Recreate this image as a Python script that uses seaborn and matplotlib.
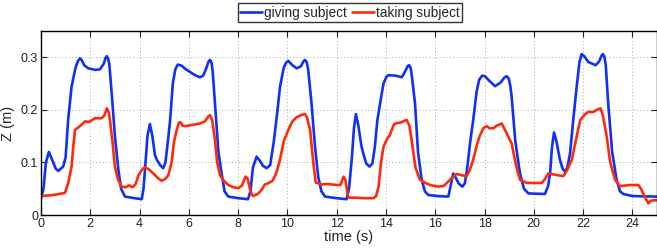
import matplotlib
matplotlib.use("Agg")
import matplotlib.pyplot as plt
import seaborn as sns
import pandas as pd
from matplotlib.ticker import FixedLocator

blue_t = [0.0, 0.1, 0.2, 0.32, 0.45, 0.6, 0.7, 0.9, 1.0, 1.1, 1.24, 1.4, 1.5, 1.58, 1.66, 1.75, 1.92, 2.2, 2.39, 2.55,
          2.62, 2.67, 2.72, 2.77, 2.87, 3.0, 3.14, 3.25, 3.41, 3.8, 4.09, 4.16, 4.22, 4.32, 4.42, 4.52, 4.62, 4.7, 4.85,
          4.96, 5.05, 5.15, 5.24, 5.35, 5.45, 5.55, 5.71, 5.85, 6.05, 6.25, 6.45, 6.58, 6.7, 6.8, 6.86, 6.92, 6.97, 7.06, 7.2,
          7.33, 7.45, 7.6, 8.0, 8.4, 8.5, 8.6, 8.75, 8.9, 9.0, 9.16, 9.3, 9.45, 9.6, 9.7, 9.85, 9.95, 10.04, 10.2,
          10.38, 10.55, 10.65, 10.71, 10.78, 10.84, 10.98, 11.12, 11.25, 11.38, 11.53, 12.0, 12.4, 12.5, 12.61, 12.7, 12.78,
          12.88, 13.0, 13.08, 13.2, 13.33, 13.45, 13.55, 13.65, 13.76, 13.9, 14.02, 14.1, 14.4, 14.64, 14.8, 14.88, 14.94,
          15.0, 15.05, 15.18, 15.3, 15.45, 15.58, 15.72, 16.1, 16.53, 16.6, 16.73, 16.82, 16.95, 17.1, 17.2, 17.3,
          17.42, 17.54, 17.68, 17.78, 17.9, 18.02, 18.2, 18.43, 18.65, 18.82, 18.9, 18.98, 19.05, 19.1, 19.25, 19.44, 19.6, 19.78,
          20.45, 20.58, 20.66, 20.74, 20.82, 20.92, 21.06, 21.17, 21.27, 21.37, 21.47, 21.6, 21.74, 21.85,
          21.94, 22.05, 22.21, 22.51, 22.65, 22.75, 22.8, 22.86, 22.92, 23.02, 23.18, 23.36, 23.5, 23.63, 24.0, 25.0]
blue_z = [0.032, 0.05, 0.10, 0.12, 0.105, 0.088, 0.084, 0.092, 0.11, 0.18, 0.244, 0.28, 0.293, 0.298, 0.294, 0.285, 0.279,
          0.276, 0.277, 0.288, 0.299, 0.302, 0.298, 0.288, 0.231, 0.15, 0.086, 0.05, 0.035, 0.032, 0.030, 0.05, 0.086, 0.15,
          0.173, 0.15, 0.115, 0.105, 0.094, 0.089, 0.10, 0.14, 0.18, 0.25, 0.277, 0.286, 0.284, 0.278, 0.272, 0.266,
          0.262, 0.265, 0.278, 0.292, 0.295, 0.29, 0.272, 0.212, 0.12, 0.079, 0.045, 0.035, 0.032, 0.030, 0.045, 0.09, 0.111,
          0.102, 0.094, 0.089, 0.095, 0.14, 0.2, 0.244, 0.28, 0.29, 0.293, 0.285, 0.279, 0.283, 0.292, 0.295, 0.291, 0.278, 0.212,
          0.13, 0.073, 0.045, 0.035, 0.032, 0.030, 0.05, 0.105, 0.165, 0.192, 0.17, 0.132, 0.117, 0.098, 0.092,
          0.098, 0.13, 0.18, 0.212, 0.25, 0.263, 0.266, 0.265, 0.262, 0.275, 0.283, 0.285, 0.28, 0.265, 0.212, 0.12, 0.067, 0.045,
          0.038, 0.036, 0.035, 0.05, 0.079, 0.072, 0.06, 0.054, 0.06, 0.09, 0.14, 0.18, 0.235, 0.257, 0.265, 0.264,
          0.255, 0.245, 0.252, 0.262, 0.264, 0.26, 0.245, 0.225, 0.14, 0.079, 0.05, 0.041, 0.040, 0.055, 0.079, 0.13, 0.157,
          0.14, 0.105, 0.088, 0.082, 0.092, 0.117, 0.18, 0.244, 0.29, 0.306, 0.302, 0.291, 0.285, 0.292, 0.303, 0.306,
          0.302, 0.285, 0.212, 0.12, 0.067, 0.045, 0.04, 0.036, 0.035]

red_t = [0.0, 0.5, 0.97, 1.1, 1.24, 1.33, 1.38, 1.5, 1.65, 1.79, 1.95, 2.19, 2.46, 2.58, 2.67, 2.75, 2.8, 2.9,
         3.0, 3.12, 3.27, 3.45, 3.55, 3.61, 3.68, 3.75, 3.85, 3.95, 4.09, 4.22, 4.4, 4.56, 4.75, 4.9, 5.05,
         5.17, 5.3, 5.4, 5.51, 5.6, 5.67, 5.75, 5.84, 6.1, 6.45, 6.65, 6.8, 6.86, 6.95, 7.06, 7.15, 7.26, 7.4,
         7.6, 7.8, 8.0, 8.15, 8.3, 8.38, 8.5, 8.6, 8.8, 8.96, 9.08, 9.2, 9.4, 9.55, 9.7, 9.85, 10.04, 10.2,
         10.38, 10.55, 10.71, 10.8, 10.92, 11.05, 11.15, 11.4, 11.6, 12.0, 12.15, 12.28, 12.35, 12.44, 12.49,
         12.8, 13.08, 13.5, 13.6, 13.7, 13.8, 13.9, 14.05, 14.16, 14.3, 14.37, 14.6, 14.84, 14.95, 15.04, 15.2,
         15.38, 15.6, 15.79, 16.1, 16.33, 16.45, 16.6, 16.75, 16.87, 17.05, 17.27, 17.4, 17.54, 17.7, 17.82,
         17.95, 18.09, 18.2, 18.36, 18.5, 18.7, 18.85, 19.1, 19.3, 19.44, 19.71, 20.32, 20.45, 20.59, 20.93,
         21.2, 21.35, 21.54, 21.7, 21.88, 22.05, 22.21, 22.42, 22.55, 22.71, 22.8, 22.96, 23.1, 23.3, 23.5,
         23.9, 24.24, 24.35, 24.5, 24.65, 24.75, 24.85, 25.0]
red_z = [0.036, 0.038, 0.042, 0.06, 0.092, 0.14, 0.162, 0.166, 0.172, 0.178, 0.177, 0.184, 0.184, 0.19, 0.203,
         0.195, 0.18, 0.14, 0.092, 0.068, 0.054, 0.053, 0.056, 0.056, 0.053, 0.054, 0.06, 0.075, 0.086, 0.091,
         0.086, 0.079, 0.07, 0.065, 0.069, 0.076, 0.1, 0.14, 0.162, 0.176, 0.176, 0.17, 0.169, 0.171, 0.174,
         0.178, 0.188, 0.19, 0.18, 0.143, 0.1, 0.076, 0.066, 0.057, 0.053, 0.051, 0.056, 0.073, 0.07, 0.045,
         0.036, 0.04, 0.048, 0.058, 0.06, 0.065, 0.08, 0.105, 0.14, 0.162, 0.178, 0.186, 0.19, 0.192, 0.185,
         0.162, 0.1, 0.062, 0.058, 0.059, 0.057, 0.057, 0.073, 0.068, 0.04, 0.033, 0.033, 0.032, 0.032, 0.036,
         0.054, 0.1, 0.13, 0.145, 0.152, 0.17, 0.174, 0.176, 0.181, 0.17, 0.143, 0.09, 0.067, 0.061, 0.057,
         0.054, 0.055, 0.06, 0.067, 0.074, 0.078, 0.076, 0.074, 0.085, 0.105, 0.135, 0.152, 0.165, 0.169, 0.165,
         0.165, 0.17, 0.174, 0.16, 0.136, 0.09, 0.067, 0.061, 0.061, 0.068, 0.079, 0.076, 0.074, 0.085, 0.105,
         0.14, 0.18, 0.19, 0.196, 0.196, 0.2, 0.203, 0.19, 0.149, 0.1, 0.067, 0.055, 0.057, 0.057, 0.05, 0.035,
         0.022, 0.027, 0.028, 0.028]

series_names = ["giving subject", "taking subject"]
colors = ["#1030f5", "#ff2a0a"]
x_ticks = list(range(0, 26, 2))
y_ticks = [0, 0.1, 0.2, 0.3]
y_tick_labels = ["0", "0.1", "0.2", "0.3"]

df = pd.concat([
    pd.DataFrame({"t": blue_t, "z": blue_z, "series": series_names[0]}),
    pd.DataFrame({"t": red_t, "z": red_z, "series": series_names[1]}),
], ignore_index=True)

sns.set_style("ticks")
plt.rcParams["font.family"] = ["Liberation Sans", "DejaVu Sans"]

fig = plt.figure(figsize=(6.57, 2.48), dpi=100)
ax = fig.add_axes([41 / 657, 1 - 215 / 248, 616 / 657, 184 / 248])

sns.lineplot(data=df, x="t", y="z", hue="series", palette=colors, sort=False,
             estimator=None, linewidth=1.9, ax=ax, legend=True)
for ln in ax.get_lines():
    ln.set_solid_joinstyle("round")
    ln.set_solid_capstyle("round")

ax.set_xlim(0, 25)
ax.set_ylim(0, 0.35)
ax.xaxis.set_major_locator(FixedLocator(x_ticks))
ax.yaxis.set_major_locator(FixedLocator(y_ticks))
ax.set_yticklabels(y_tick_labels)
ax.grid(True, linestyle=(0, (1, 2.5)), color="#aaaaaa", linewidth=0.7)
ax.tick_params(direction="in", length=4, width=0.8, top=True, right=True,
               labelsize=9, pad=2, colors="#222222")
for s in ax.spines.values():
    s.set_linewidth(1.0)
    s.set_color("black")
ax.set_xlabel("time (s)", fontsize=10.5, labelpad=0)
ax.set_ylabel("Z (m)", fontsize=10.5, labelpad=4)

handles, labels = ax.get_legend_handles_labels()
leg = fig.legend(handles, labels, loc="center", bbox_to_anchor=(350 / 657, 1 - 12.5 / 248), ncol=2,
                 fontsize=9.8, frameon=True, fancybox=False, handlelength=1.6, handletextpad=0.15,
                 columnspacing=0.4, borderpad=0.2, borderaxespad=0)
leg.get_frame().set_edgecolor("black")
leg.get_frame().set_linewidth(1.0)
if ax.get_legend() is not None:
    ax.get_legend().remove()

fig.savefig("out.png", dpi=100)
